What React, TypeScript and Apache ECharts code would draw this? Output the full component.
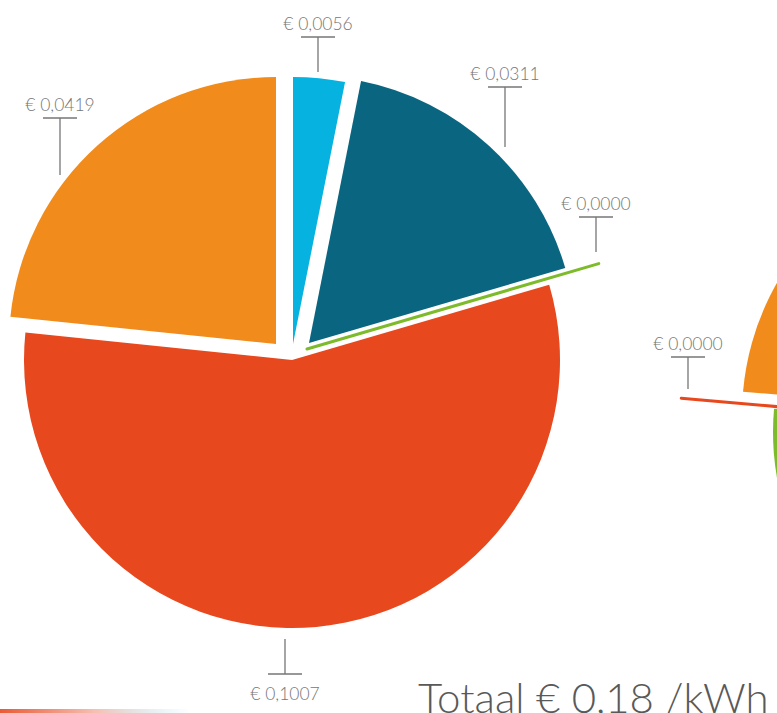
import React, { useEffect, useRef } from "react";
import * as echarts from "echarts";

// ---- data ----
const CATEGORIES = ["Post 1", "Post 2", "Post 3", "Post 4", "Post 5"];
const PIE1_VALUES = [0.0056, 0.0311, 0.0, 0.1007, 0.0419];
// second pie is mostly outside the picture; values estimated from visible part
const PIE2_VALUES = [0.0056, 0.053, 0.077, 0.0, 0.0419];
const COLORS = ["#06B2E0", "#0A6680", "#7DBB2B", "#E8481E", "#F18B1B"];

// ---- layout (exploded slices: each slice has its own centre) ----
const PIE1_CENTERS: [number, number][] = [
  [293, 344],
  [309, 343],
  [307, 349],
  [292, 360],
  [276, 344],
];
const PIE1_RADII = [267, 267, 304, 268, 267];
const PIE2_CENTERS: [number, number][] = [
  [1009, 415],
  [1009, 415],
  [1040, 432],
  [1009, 427],
  [1009, 415],
];
const PIE2_RADII = [267, 267, 267, 329, 267];

// label anchors: x of leader, y of bar, y of leader tip, placement
const LABEL_ANCHORS = [
  { pie: 1, idx: 0, x: 318, bar: 37, tip: 72, below: false },
  { pie: 1, idx: 1, x: 505, bar: 87, tip: 147, below: false },
  { pie: 1, idx: 2, x: 596, bar: 217, tip: 252, below: false },
  { pie: 1, idx: 3, x: 285, bar: 674, tip: 639, below: true },
  { pie: 1, idx: 4, x: 60, bar: 118, tip: 175, below: false },
  { pie: 2, idx: 3, x: 688, bar: 357, tip: 389, below: false },
];

const fmt = (v: number) => "€ " + v.toFixed(4).replace(".", ",");

function sliceSeries(
  values: number[],
  idx: number,
  center: [number, number],
  radius: number
) {
  return {
    type: "pie",
    silent: true,
    startAngle: 90,
    clockwise: true,
    center,
    radius,
    avoidLabelOverlap: false,
    label: { show: false },
    labelLine: { show: false },
    emphasis: { disabled: true },
    data: values.map((v, i) => ({
      name: CATEGORIES[i],
      value: v,
      itemStyle:
        i === idx
          ? {
              color: COLORS[i],
              borderColor: COLORS[i],
              borderWidth: v === 0 ? 3 : 0,
            }
          : { color: "transparent", borderWidth: 0, borderColor: "transparent" },
    })),
  };
}

export default function App() {
  const ref = useRef<HTMLDivElement>(null);
  useEffect(() => {
    document.body.style.margin = "0";
    if (!ref.current) return;
    const chart = echarts.init(ref.current, null, { renderer: "svg" });

    const series: any[] = [];
    PIE1_VALUES.forEach((_, i) =>
      series.push(sliceSeries(PIE1_VALUES, i, PIE1_CENTERS[i], PIE1_RADII[i]))
    );
    PIE2_VALUES.forEach((_, i) =>
      series.push(sliceSeries(PIE2_VALUES, i, PIE2_CENTERS[i], PIE2_RADII[i]))
    );

    const labelColor = "#767676";
    const graphics: any[] = [];
    LABEL_ANCHORS.forEach((a) => {
      const v = a.pie === 1 ? PIE1_VALUES[a.idx] : PIE2_VALUES[a.idx];
      graphics.push({
        type: "line",
        silent: true,
        shape: { x1: a.x - 17, y1: a.bar, x2: a.x + 17, y2: a.bar },
        style: { stroke: labelColor, lineWidth: 1.3 },
      });
      graphics.push({
        type: "line",
        silent: true,
        shape: { x1: a.x, y1: a.bar, x2: a.x, y2: a.tip },
        style: { stroke: labelColor, lineWidth: 1.3 },
      });
      graphics.push({
        type: "text",
        silent: true,
        x: a.x,
        y: a.below ? a.bar + 19 : a.bar - 14,
        style: {
          text: fmt(v),
          fill: labelColor,
          fontSize: 17.5,
          fontFamily: "Lato, 'Open Sans', sans-serif",
          fontWeight: 300,
          align: "center",
          verticalAlign: "middle",
        },
      });
    });

    const total = PIE1_VALUES.reduce((s, v) => s + v, 0);
    graphics.push({
      type: "text",
      silent: true,
      x: 418,
      y: 697,
      style: {
        text: "Totaal € " + total.toFixed(2).replace(".", ",") + " /kWh",
        fill: "#595959",
        fontSize: 42,
        fontFamily: "Lato, 'Open Sans', sans-serif",
        fontWeight: 300,
        align: "left",
        verticalAlign: "middle",
      },
    });
    graphics.push({
      type: "rect",
      silent: true,
      shape: { x: 0, y: 709, width: 190, height: 4 },
      style: {
        fill: new echarts.graphic.LinearGradient(0, 0, 1, 0, [
          { offset: 0, color: "rgba(232,72,30,0.9)" },
          { offset: 0.5, color: "rgba(232,72,30,0.35)" },
          { offset: 1, color: "rgba(6,178,224,0)" },
        ]),
      },
    });

    chart.setOption({
      animation: false,
      backgroundColor: "#FFFFFF",
      tooltip: { show: false },
      legend: { show: false },
      series,
      graphic: { elements: graphics },
    });
    return () => chart.dispose();
  }, []);
  return (
    <div
      ref={ref}
      style={{ width: 777, height: 713, position: "absolute", left: 0, top: 0 }}
    />
  );
}
